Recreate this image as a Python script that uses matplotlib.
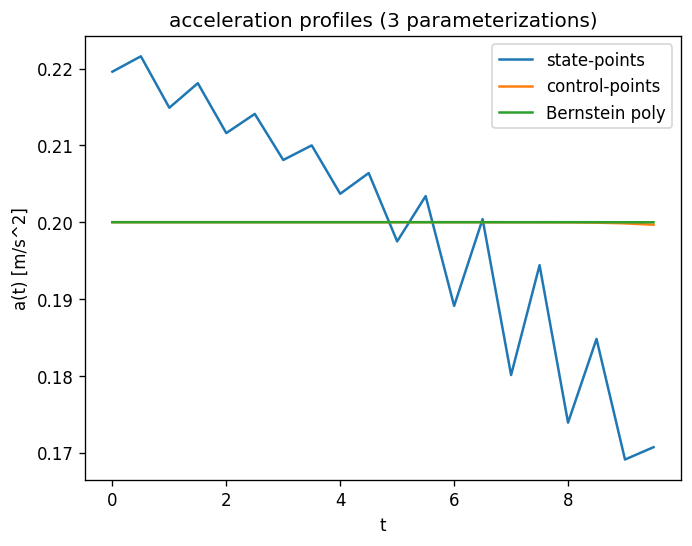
import numpy as np
import matplotlib
matplotlib.use("Agg")
import matplotlib.pyplot as plt

# time grid and sampled accelerations
t = [0.0, 0.5, 1.0, 1.5, 2.0, 2.5, 3.0, 3.5, 4.0, 4.5,
     5.0, 5.5, 6.0, 6.5, 7.0, 7.5, 8.0, 8.5, 9.0, 9.5]

a_state = [0.2196, 0.2216, 0.2149, 0.2181, 0.2116, 0.2141, 0.2081, 0.2100, 0.2037, 0.2064,
           0.1975, 0.2034, 0.1891, 0.2004, 0.1801, 0.1944, 0.1739, 0.1848, 0.1691, 0.1707]

a_ctrl = [0.2000, 0.2000, 0.2000, 0.2000, 0.2000, 0.2000, 0.2000, 0.2000, 0.2000, 0.2000,
          0.2000, 0.2000, 0.2000, 0.2000, 0.19999, 0.19999, 0.19998, 0.19994, 0.19985, 0.19967]

a_bern = [0.2000, 0.2000, 0.2000, 0.2000, 0.2000, 0.2000, 0.2000, 0.2000, 0.2000, 0.2000,
          0.2000, 0.2000, 0.2000, 0.2000, 0.2000, 0.2000, 0.2000, 0.2000, 0.19999, 0.19999]

plt.figure(figsize=(6.4, 4.8), dpi=120)
plt.plot(t, a_state, label="state-points")
plt.plot(t, a_ctrl, label="control-points")
plt.plot(t, a_bern, label="Bernstein poly")
plt.xlabel("t")
plt.ylabel("a(t) [m/s^2]")
plt.title("acceleration profiles (3 parameterizations)")
plt.legend()
plt.savefig("out.png", dpi=120, bbox_inches="tight")
